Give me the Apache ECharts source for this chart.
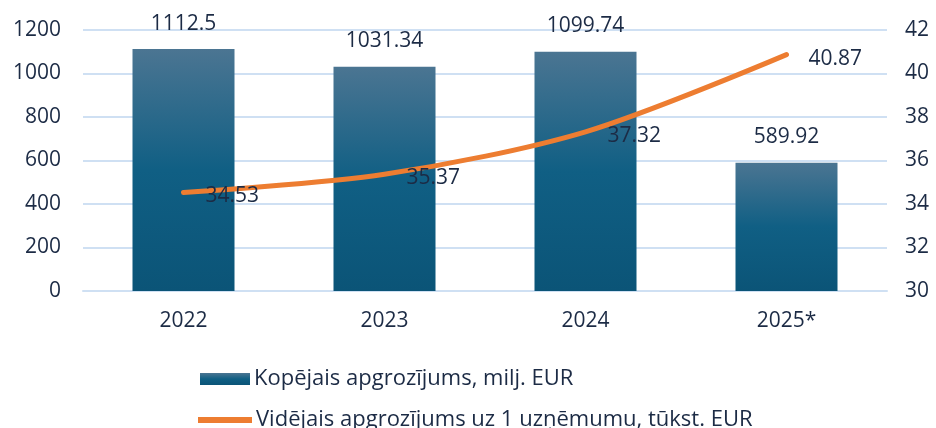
<!DOCTYPE html>
<html>
<head>
<meta charset="utf-8">
<script src="https://cdn.jsdelivr.net/npm/echarts@6/dist/echarts.min.js"></script>
<style>
  html, body { margin: 0; padding: 0; background: #fff; }
  #chart { width: 936px; height: 428px; }
</style>
</head>
<body>
<div id="chart"></div>
<script>
var years = ['2022', '2023', '2024', '2025*'];
var turnoverTotal = [1112.5, 1031.34, 1099.74, 589.92];
var turnoverAvg = [34.53, 35.37, 37.32, 40.87];
var barName = 'Kopējais apgrozījums, milj. EUR';
var lineName = 'Vidējais apgrozījums uz 1 uzņēmumu, tūkst. EUR';

var textColor = '#1c2b45';
var fontFam = '"Open Sans", "Noto Sans", sans-serif';

var chart = echarts.init(document.getElementById('chart'));

var barGradient = new echarts.graphic.LinearGradient(0, 0, 0, 1, [
	{ offset: 0, color: '#4b7592' },
	{ offset: 0.5, color: '#105f84' },
	{ offset: 1, color: '#0b5477' }
]);

// legend text style shared by both rows
var legendText = { fontSize: 22, color: textColor, fontFamily: fontFam, padding: [0, 0, 0, -1] };

var option = {
	animation: false,
	textStyle: { fontFamily: fontFam, color: textColor },
	grid: {
		left: 83,
		right: 49,
		top: 30,
		bottom: 137
	},
	legend: [
		{
			left: 195,
			top: 363,
			itemWidth: 50,
			itemHeight: 12,
			textStyle: legendText,
			data: [{ name: barName, icon: 'rect' }]
		},
		{
			left: 193,
			top: 404,
			itemWidth: 54,
			itemHeight: 12,
			textStyle: legendText,
			data: [{ name: lineName, icon: 'path://M0,3 L54,3 L54,9 L0,9 Z' }]
		}
	],
	xAxis: {
		type: 'category',
		data: years,
		axisLine: { show: true, lineStyle: { color: '#cfe0f3', width: 2 } },
		axisTick: { show: false },
		axisLabel: { fontSize: 21, color: textColor, margin: 20 }
	},
	yAxis: [
		{
			type: 'value',
			min: 0,
			max: 1200,
			interval: 200,
			axisLine: { show: false },
			axisTick: { show: false },
			axisLabel: {
				fontSize: 21,
				color: textColor,
				margin: 22,
				formatter: function (v) { return String(v); }
			},
			splitLine: { lineStyle: { color: '#cfe0f3', width: 2 } }
		},
		{
			type: 'value',
			min: 30,
			max: 42,
			interval: 2,
			axisLine: { show: false },
			axisTick: { show: false },
			axisLabel: { fontSize: 21, color: textColor, margin: 18 },
			splitLine: { show: false }
		}
	],
	series: [
		{
			name: barName,
			type: 'bar',
			data: turnoverTotal,
			barWidth: 102,
			itemStyle: { color: barGradient },
			label: {
				show: true,
				position: 'top',
				distance: 15,
				fontSize: 21,
				color: textColor
			}
		},
		{
			name: lineName,
			type: 'line',
			yAxisIndex: 1,
			data: turnoverAvg,
			smooth: 0.3,
			symbol: 'circle',
			symbolSize: 0.1,
			lineStyle: { color: '#ed7d31', width: 5, cap: 'round' },
			itemStyle: { color: '#ed7d31' },
			label: {
				show: true,
				position: 'right',
				distance: 22,
				offset: [0, 4],
				fontSize: 21,
				color: textColor
			}
		}
	]
};

chart.setOption(option);
</script>
</body>
</html>
